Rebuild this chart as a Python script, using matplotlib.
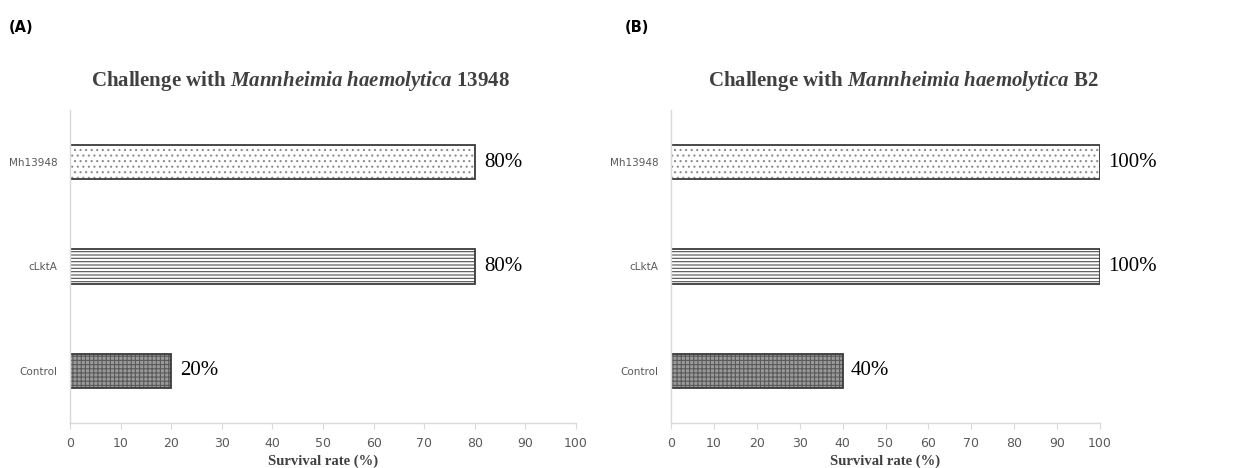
import matplotlib.pyplot as plt
import numpy as np

# data
groups = ['Mh13948', 'cLktA', 'Control']
surv_13948 = [80, 80, 20]
surv_b2 = [100, 100, 40]
strains = ['13948', 'B2']

# styles per group
hatches = ['...', '-----', '++++']
faces = ['white', 'white', '#9a9a9a']
hatch_cols = ['#8c8c8c', '#505050', '#5a5a5a']
title_x = [0.455, 0.541]

plt.rcParams['hatch.linewidth'] = 0.8
plt.rcParams['mathtext.fontset'] = 'custom'
plt.rcParams['mathtext.it'] = 'Liberation Serif:italic:bold'
plt.rcParams['mathtext.rm'] = 'Liberation Serif:bold'
plt.rcParams['mathtext.bf'] = 'Liberation Serif:bold'

fig = plt.figure(figsize=(12.41, 4.68), dpi=100)
ax1 = fig.add_axes([70 / 1241, 45 / 468, 506 / 1241, 313 / 468])
ax2 = fig.add_axes([671 / 1241, 45 / 468, 429 / 1241, 313 / 468])

for ax, vals, strain, tx in zip([ax1, ax2], [surv_13948, surv_b2], strains, title_x):
    y = np.arange(len(groups))[::-1]
    # hatch layer, then a dark outline on top
    ax.barh(y, vals, height=0.33, color=faces, hatch=hatches,
            edgecolor=hatch_cols, linewidth=0)
    ax.barh(y, vals, height=0.33, fill=False, edgecolor='#3a3a3a', linewidth=1.3)
    for yy, v in zip(y, vals):
        ax.text(v + 1.8, yy, f'{v}%', va='center', ha='left',
                fontsize=15, family='Liberation Serif', color='black')
    ax.set_xlim(0, 100)
    ax.set_ylim(-0.5, 2.5)
    ax.set_yticks(y)
    ax.set_yticklabels(groups, fontsize=7.5, color='#595959')
    ax.set_xticks(np.arange(0, 101, 10))
    ax.tick_params(axis='x', labelsize=9, colors='#595959', length=4, width=0.8,
                   color='#d9d9d9', pad=6)
    ax.tick_params(axis='y', length=0, pad=9)
    for s in ['top', 'right']:
        ax.spines[s].set_visible(False)
    for s in ['left', 'bottom']:
        ax.spines[s].set_color('#d9d9d9')
        ax.spines[s].set_linewidth(1.0)
    ax.set_xlabel('Survival rate (%)', fontsize=10.5, fontweight='bold',
                  family='Liberation Serif', color='#404040', labelpad=3)
    ax.set_title(r'Challenge with $\mathit{Mannheimia}$ $\mathit{haemolytica}$ ' + strain,
                 fontsize=15, fontweight='bold', family='Liberation Serif',
                 color='#404040', pad=17, x=tx)

fig.text(9 / 1241, 1 - 28 / 468, '(A)', fontsize=10.5, fontweight='bold', va='center')
fig.text(625 / 1241, 1 - 28 / 468, '(B)', fontsize=10.5, fontweight='bold', va='center')

plt.savefig('out.png', dpi=100)
